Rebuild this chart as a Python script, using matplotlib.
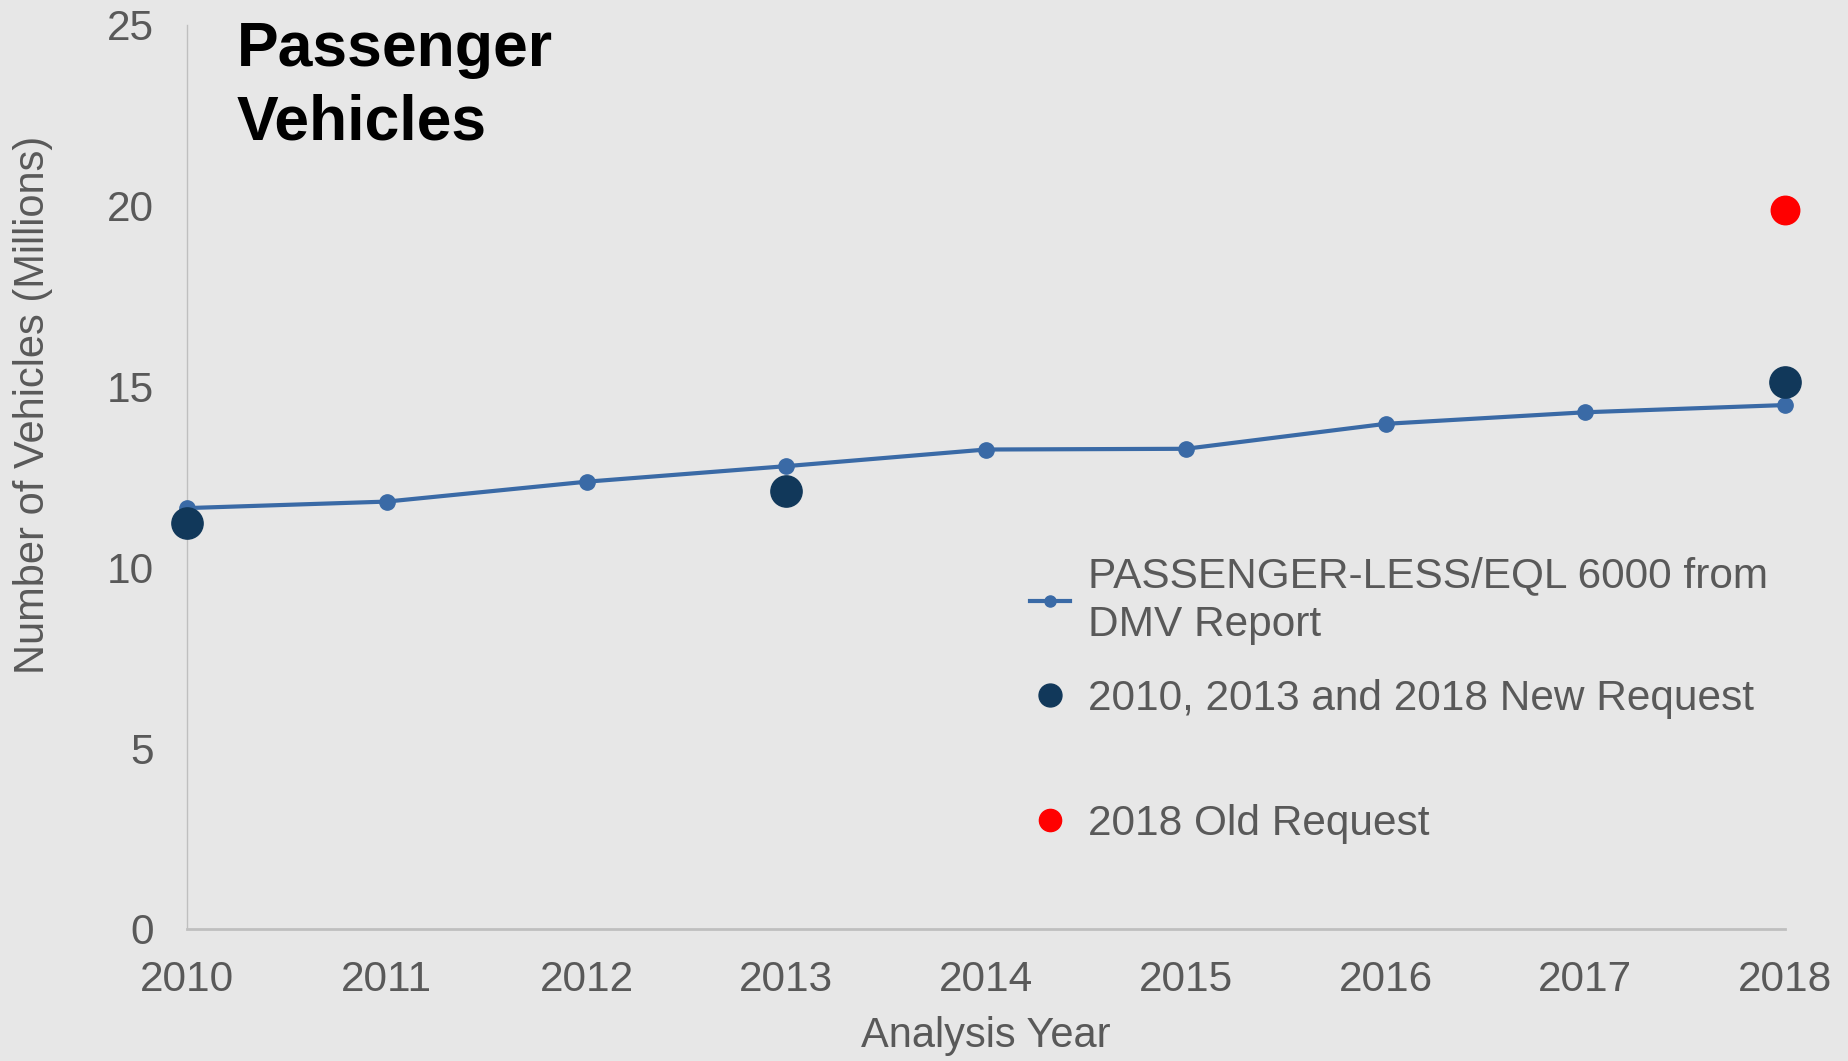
import matplotlib
matplotlib.use("Agg")
import matplotlib.pyplot as plt
from matplotlib.lines import Line2D

# --- data ---
years = [2010, 2011, 2012, 2013, 2014, 2015, 2016, 2017, 2018]
dmv_millions = [11.64, 11.82, 12.37, 12.80, 13.26, 13.28, 13.97, 14.29, 14.49]
new_req_years = [2010, 2013, 2018]
new_req_millions = [11.22, 12.11, 15.14]
old_req_years = [2018]
old_req_millions = [19.88]

dmv_label = "PASSENGER-LESS/EQL 6000 from\nDMV Report"
new_label = "2010, 2013 and 2018 New Request"
old_label = "2018 Old Request"

BG = "#e7e7e7"
TXT = "#595959"
LINE_C = "#3a6aa6"
NAVY = "#11385a"
RED = "#ff0000"

plt.rcParams["font.family"] = ["Liberation Sans", "DejaVu Sans"]

fig = plt.figure(figsize=(18.49, 10.61), dpi=100, facecolor=BG)
ax = fig.add_axes([187 / 1849, 1 - 929 / 1061, 1598 / 1849, 904 / 1061])
ax.set_facecolor(BG)

ax.plot(years, dmv_millions, color=LINE_C, lw=3, marker="o", ms=11,
        mec=LINE_C, mfc=LINE_C, clip_on=False, zorder=3)
ax.plot(new_req_years, new_req_millions, ls="none", marker="o", ms=22.5,
        mfc=NAVY, mec=NAVY, clip_on=False, zorder=4)
ax.plot(old_req_years, old_req_millions, ls="none", marker="o", ms=20.5,
        mfc=RED, mec=RED, clip_on=False, zorder=4)

ax.set_xlim(2010, 2018)
ax.set_ylim(0, 25)
ax.set_xticks(years)
ax.set_yticks([0, 5, 10, 15, 20, 25])
ax.tick_params(axis="both", length=0, labelsize=30.5, labelcolor=TXT)
ax.tick_params(axis="x", pad=22)
ax.tick_params(axis="y", pad=24)

for s in ("top", "right"):
    ax.spines[s].set_visible(False)
ax.spines["left"].set_color("#bfbfbf")
ax.spines["left"].set_linewidth(1)
ax.spines["bottom"].set_color("#bfbfbf")
ax.spines["bottom"].set_linewidth(2)

ax.set_xlabel("Analysis Year", fontsize=30, color=TXT)
ax.xaxis.set_label_coords(0.5, -0.118)
ax.xaxis.label.set_va("center")
ax.set_ylabel("Number of Vehicles (Millions)", fontsize=30, color=TXT)
ax.yaxis.set_label_coords(-0.0964, 0.58)
ax.yaxis.label.set_va("center")

fig.text(237 / 1849, 1 - 20 / 1061, "Passenger\nVehicles", fontsize=45,
         fontweight="bold", color="black", va="top", ha="left",
         linespacing=1.32)

# legend: first two entries, third placed separately to match spacing
h_dmv = Line2D([], [], color=LINE_C, lw=3, marker="o", ms=8)
h_new = Line2D([], [], ls="none", marker="o", ms=16.5, color=NAVY)
h_old = Line2D([], [], ls="none", marker="o", ms=16, color=RED)

leg1 = ax.legend([h_dmv, h_new], [dmv_label, new_label],
                 loc="upper left", bbox_to_anchor=(1030 / 1849, 1 - 556 / 1061),
                 bbox_transform=fig.transFigure, frameon=False, fontsize=30.5,
                 labelcolor=TXT, borderpad=0, borderaxespad=0,
                 handlelength=0.95, handletextpad=0.42, labelspacing=0.8)
for t in leg1.get_texts():
    t.set_linespacing(1.3)
ax.add_artist(leg1)

ax.legend([h_old], [old_label], loc="upper left",
          bbox_to_anchor=(1030 / 1849, 1 - 804 / 1061),
          bbox_transform=fig.transFigure, frameon=False, fontsize=30.5,
          labelcolor=TXT, borderpad=0, borderaxespad=0,
          handlelength=0.95, handletextpad=0.42)

fig.savefig("out.png", dpi=100, facecolor=BG)
